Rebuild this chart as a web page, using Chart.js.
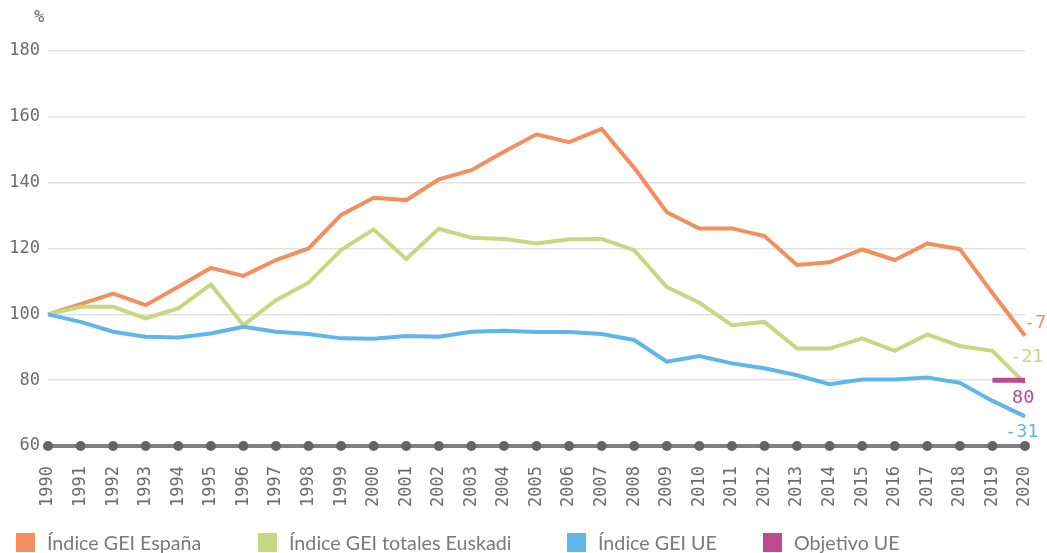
<!DOCTYPE html>
<html>
<head>
<meta charset="utf-8">
<script src="https://cdn.jsdelivr.net/npm/chart.js@4/dist/chart.umd.min.js"></script>
<style>
  html, body { margin: 0; padding: 0; background: #fff; }
  #wrap { position: relative; width: 1047px; height: 553px; }
  #legend { position: absolute; left: 0; top: 531px; width: 1047px; height: 22px; }
  .item { position: absolute; top: 0; display: flex; align-items: center; font-family: Lato, 'Open Sans', sans-serif; font-size: 19.7px; color: #7a7a7a; white-space: nowrap; }
  .item span.box { display: inline-block; width: 19px; height: 19px; margin-right: 12px; }
</style>
</head>
<body>
<div id="wrap">
  <canvas id="chart" width="1047" height="553"></canvas>
  <div id="legend"></div>
</div>
<script>
const years = ['1990', '1991', '1992', '1993', '1994', '1995', '1996', '1997', '1998', '1999',
  '2000', '2001', '2002', '2003', '2004', '2005', '2006', '2007', '2008', '2009',
  '2010', '2011', '2012', '2013', '2014', '2015', '2016', '2017', '2018', '2019', '2020']

const espana = [100, 103.1, 106.3, 102.8, 108.4, 114.1, 111.7, 116.5, 120, 130.2,
  135.4, 134.7, 141, 143.8, 149.4, 154.7, 152.3, 156.3, 144.5, 131,
  126.1, 126.1, 123.8, 115, 115.8, 119.7, 116.5, 121.5, 119.8, 106.5, 93.5]

const euskadi = [100, 102.3, 102.3, 98.8, 101.8, 109.1, 96.7, 104.3, 109.6, 119.5,
  125.8, 116.8, 126, 123.3, 122.9, 121.5, 122.8, 122.9, 119.5, 108.3,
  103.5, 96.7, 97.7, 89.6, 89.6, 92.7, 88.9, 93.9, 90.4, 88.9, 79]

const ue = [100, 97.7, 94.7, 93.2, 93, 94.2, 96.2, 94.7, 94, 92.7,
  92.6, 93.4, 93.2, 94.7, 95, 94.6, 94.6, 94, 92.2, 85.6,
  87.3, 85.1, 83.6, 81.5, 78.8, 80.2, 80.2, 80.8, 79.2, 73.7, 69]

const objetivoUE = [{ x: '2019', y: 80 }, { x: '2020', y: 80 }]

const seriesNames = ['Índice GEI España', 'Índice GEI totales Euskadi', 'Índice GEI UE', 'Objetivo UE']
const endLabels = ['-7', '-21', '-31', '80']
const yTicks = [60, 80, 100, 120, 140, 160, 180]

const COLORS = ['#f38f5e', '#c4d981', '#5fb6e8', '#bc4a93']
// label offsets from the last point of each series (dx, dy)
const LABEL_OFFSETS = [[-1, -13], [-15, -26], [-20, 16], [-13, 18]]
const LEGEND_LEFT = [16, 258, 567, 763]

const TICK_COLOR = '#6c6c6c'
const MONO = "'DejaVu Sans Mono', monospace"

const baseAxis = {
  id: 'baseAxis',
  beforeDatasetsDraw(chart) {
    const { ctx, scales: { x, y } } = chart
    const yPos = y.getPixelForValue(yTicks[0])
    ctx.save()
    ctx.strokeStyle = '#808080'
    ctx.lineWidth = 4
    ctx.beginPath()
    ctx.moveTo(x.getPixelForValue(0), yPos)
    ctx.lineTo(x.getPixelForValue(years.length - 1), yPos)
    ctx.stroke()
    ctx.fillStyle = '#646464'
    years.forEach((yr, i) => {
      ctx.beginPath()
      ctx.arc(x.getPixelForValue(i), yPos, 5, 0, Math.PI * 2)
      ctx.fill()
    })
    ctx.restore()
  }
}

const extras = {
  id: 'extras',
  afterDatasetsDraw(chart) {
    const { ctx, scales: { y } } = chart
    ctx.save()
    ctx.font = '17px ' + MONO
    ctx.fillStyle = TICK_COLOR
    ctx.textAlign = 'center'
    ctx.textBaseline = 'middle'
    ctx.fillText('%', y.right - 9, 18)

    ctx.font = '18.5px ' + MONO
    ctx.textAlign = 'left'
    chart.data.datasets.forEach((ds, i) => {
      const meta = chart.getDatasetMeta(i)
      const pt = meta.data[meta.data.length - 1]
      if (!pt) return
      ctx.fillStyle = COLORS[i]
      ctx.fillText(endLabels[i], pt.x + LABEL_OFFSETS[i][0], pt.y + LABEL_OFFSETS[i][1])
    })
    ctx.restore()
  }
}

function lineDataset(label, data, color, order, width) {
  return {
    label,
    data,
    borderColor: color,
    backgroundColor: color,
    borderWidth: width,
    pointRadius: 0,
    pointHoverRadius: 0,
    tension: 0,
    fill: false,
    order,
    clip: false
  }
}

new Chart(document.getElementById('chart'), {
  type: 'line',
  data: {
    labels: years,
    datasets: [
      lineDataset(seriesNames[0], espana, COLORS[0], 3, 4),
      lineDataset(seriesNames[1], euskadi, COLORS[1], 2, 4),
      lineDataset(seriesNames[2], ue, COLORS[2], 1, 4),
      lineDataset(seriesNames[3], objetivoUE, COLORS[3], 0, 5)
    ]
  },
  options: {
    responsive: false,
    animation: false,
    layout: { padding: { top: 51, right: 22, bottom: 45, left: 0 } },
    plugins: {
      legend: { display: false },
      tooltip: { enabled: false }
    },
    scales: {
      x: {
        grid: {
          display: true,
          drawOnChartArea: false,
          drawTicks: true,
          tickLength: 20,
          color: 'rgba(0,0,0,0)'
        },
        border: { display: false },
        ticks: {
          autoSkip: false,
          maxRotation: 90,
          minRotation: 90,
          padding: 0,
          color: TICK_COLOR,
          font: { family: MONO, size: 17 }
        },
        afterFit(scale) { scale.height = 62 }
      },
      y: {
        min: 60,
        max: 180,
        afterBuildTicks(scale) { scale.ticks = yTicks.map(v => ({ value: v })) },
        grid: { color: '#e2e2e2', lineWidth: 1.5, drawTicks: false },
        border: { display: false },
        ticks: {
          padding: 8,
          color: TICK_COLOR,
          font: { family: MONO, size: 17 }
        },
        afterFit(scale) { scale.width = 48 }
      }
    }
  },
  plugins: [baseAxis, extras]
})

const legendEl = document.getElementById('legend')
seriesNames.forEach((name, i) => {
  const item = document.createElement('div')
  item.className = 'item'
  item.style.left = LEGEND_LEFT[i] + 'px'
  const box = document.createElement('span')
  box.className = 'box'
  box.style.background = COLORS[i]
  item.appendChild(box)
  item.appendChild(document.createTextNode(name))
  legendEl.appendChild(item)
})
</script>
</body>
</html>
